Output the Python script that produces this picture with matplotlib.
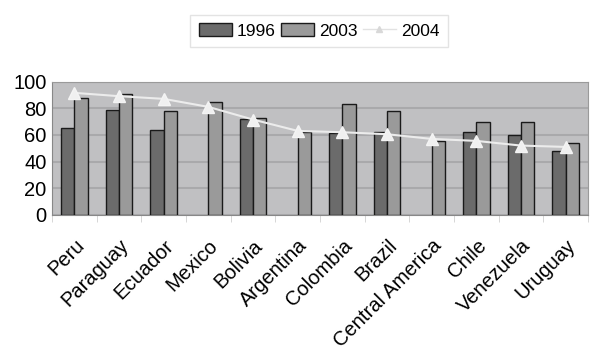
import numpy as np
import matplotlib.pyplot as plt
from matplotlib.transforms import ScaledTranslation
from matplotlib.lines import Line2D

countries = ['Peru', 'Paraguay', 'Ecuador', 'Mexico', 'Bolivia', 'Argentina',
             'Colombia', 'Brazil', 'Central America', 'Chile', 'Venezuela', 'Uruguay']
y1996 = [65.5, 79, 63.5, np.nan, 72, np.nan, 61.5, 62.5, np.nan, 62, 60, 48]
y2003 = [88, 91, 78, 85, 73, 62, 83, 78, 55.5, 69.5, 69.5, 54]
y2004 = [91.5, 89, 87, 81, 71.5, 63, 62, 60.5, 57, 55.5, 52, 51]

plt.rcParams['font.family'] = ['Liberation Sans', 'DejaVu Sans']

fig = plt.figure(figsize=(5.92, 3.56), dpi=100)
ax = fig.add_axes([52/592, 1 - 215/356, 536/592, 133.5/356])

x = np.arange(len(countries))
w = 0.3
b1 = ax.bar(x - w/2, y1996, w, color='#6b6b6b', edgecolor='#1a1a1a', linewidth=1, label='1996', zorder=3)
b2 = ax.bar(x + w/2, y2003, w, color='#9a9a9a', edgecolor='#1a1a1a', linewidth=1, label='2003', zorder=3)
ax.plot(x, y2004, color='#ececec', marker='^', markersize=8, markeredgecolor='#f4f4f4',
        markerfacecolor='#f0f0f0', linewidth=1.5, label='2004', zorder=4)

ax.set_facecolor('#c0c0c2')
ax.set_xlim(-0.5, len(countries) - 0.5)
ax.set_ylim(0, 100)
ax.set_yticks([0, 20, 40, 60, 80, 100])
ax.yaxis.grid(True, color='#a9a9ab', linewidth=1.5, zorder=1)
for s in ['top', 'right']:
    ax.spines[s].set_color('#9a9a9a')
ax.spines['left'].set_color('#888888')
ax.spines['bottom'].set_color('#888888')
ax.tick_params(axis='y', length=0, labelsize=14.5, pad=4)

ax.set_xticks(x)
ax.set_xticklabels(countries, rotation=45, ha='right', rotation_mode='anchor', fontsize=14.5)
ax.tick_params(axis='x', length=0, pad=15)
shift = ScaledTranslation(0, 0, fig.dpi_scale_trans)
for lab in ax.get_xticklabels():
    lab.set_transform(lab.get_transform() + shift)
ax.set_xticks(np.arange(len(countries) + 1) - 0.5, minor=True)
ax.tick_params(axis='x', which='minor', length=5, color='#d0d0d0')

# faint line with a small triangle for the 2004 entry
lh = Line2D([], [], color='#e2e2e2', marker='^', markersize=5, markerfacecolor='#d8d8d8',
            markeredgecolor='#d8d8d8', linewidth=1)
fig.legend([b1, b2, lh], ['1996', '2003', '2004'], loc='upper center',
           bbox_to_anchor=(319/592, 1 - 6/356), ncol=3,
           fontsize=12.5, frameon=True, fancybox=False, edgecolor='#dddddd',
           handlelength=1.9, handleheight=0.7, columnspacing=0.3, handletextpad=0.3,
           borderpad=0.5)

fig.savefig('out.png', dpi=100)
